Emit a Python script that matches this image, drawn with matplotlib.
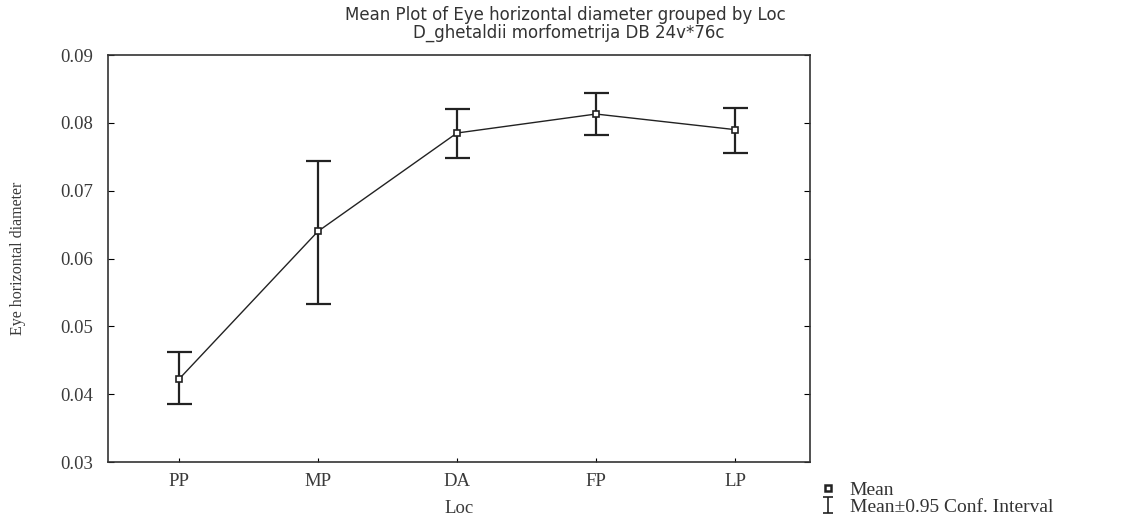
import matplotlib.pyplot as plt
from matplotlib.lines import Line2D
from matplotlib.path import Path
import numpy as np

# values
locs = ['PP', 'MP', 'DA', 'FP', 'LP']
means = [0.0422, 0.0640, 0.0785, 0.0813, 0.0790]
upper = [0.0462, 0.0744, 0.0821, 0.0844, 0.0822]
lower = [0.0385, 0.0533, 0.0748, 0.0782, 0.0756]
yticks = [0.03, 0.04, 0.05, 0.06, 0.07, 0.08, 0.09]

serif = 'Liberation Serif'
sans = 'DejaVu Sans'
ink = '#222222'

fig = plt.figure(figsize=(11.26, 5.19), dpi=100)
ax = fig.add_axes([0.0959, 0.1098, 0.6235, 0.7842])

x = np.arange(len(locs))
m = np.array(means)
yerr = [m - np.array(lower), np.array(upper) - m]

ax.errorbar(x, m, yerr=yerr, fmt='none', ecolor=ink, elinewidth=1.6,
            capsize=9, capthick=1.6, zorder=2)
ax.plot(x, m, color=ink, lw=1.0, marker='s', ms=5, mfc='white',
        mec=ink, mew=1.2, zorder=3)

ax.set_xlim(-0.51, 4.54)
ax.set_ylim(0.03, 0.09)
ax.set_yticks(yticks)
ax.set_yticklabels(['%.2f' % v for v in yticks], fontfamily=serif, fontsize=13.5, color='#3a3a3a')
ax.set_xticks(x)
ax.set_xticklabels(locs, fontfamily=serif, fontsize=13.5, color='#3a3a3a')
ax.tick_params(axis='y', direction='in', length=4, right=True, pad=11)
ax.tick_params(axis='x', direction='in', length=3, pad=8)
for s in ax.spines.values():
    s.set_linewidth(1.2)
    s.set_color('#333333')

ax.set_xlabel('Loc', fontfamily=serif, fontsize=13.5, labelpad=7, color='#3a3a3a')
ax.yaxis.set_label_coords(-0.117, 0.49)
ax.set_ylabel('Eye horizontal diameter', fontfamily=serif, fontsize=11.5, color='#3a3a3a')

fig.text(0.502, 0.971, 'Mean Plot of Eye horizontal diameter grouped by Loc',
         ha='center', va='center', fontfamily=sans, fontsize=12, color='#333333')
fig.text(0.505, 0.937, 'D_ghetaldii morfometrija DB 24v*76c',
         ha='center', va='center', fontfamily=sans, fontsize=12, color='#333333')

# small I-beam glyph for the confidence interval entry
ibeam = Path([(-0.6, 1), (0.6, 1), (0, 1), (0, -1), (-0.6, -1), (0.6, -1)],
             [Path.MOVETO, Path.LINETO, Path.MOVETO, Path.LINETO, Path.MOVETO, Path.LINETO])
handles = [Line2D([], [], ls='none', marker='s', ms=5, mfc='white', mec=ink, mew=1.8),
           Line2D([], [], ls='none', marker=ibeam, ms=11, color=ink, mew=1.2)]
fig.legend(handles, ['Mean', 'Mean\u00b10.95 Conf. Interval'], loc='upper left',
           bbox_to_anchor=(0.72, 0.092), frameon=False,
           prop={'family': serif, 'size': 14}, labelcolor='#333333',
           handlelength=0.8, handletextpad=0.7, labelspacing=0.0, borderpad=0)

fig.savefig('out.png', dpi=100)
